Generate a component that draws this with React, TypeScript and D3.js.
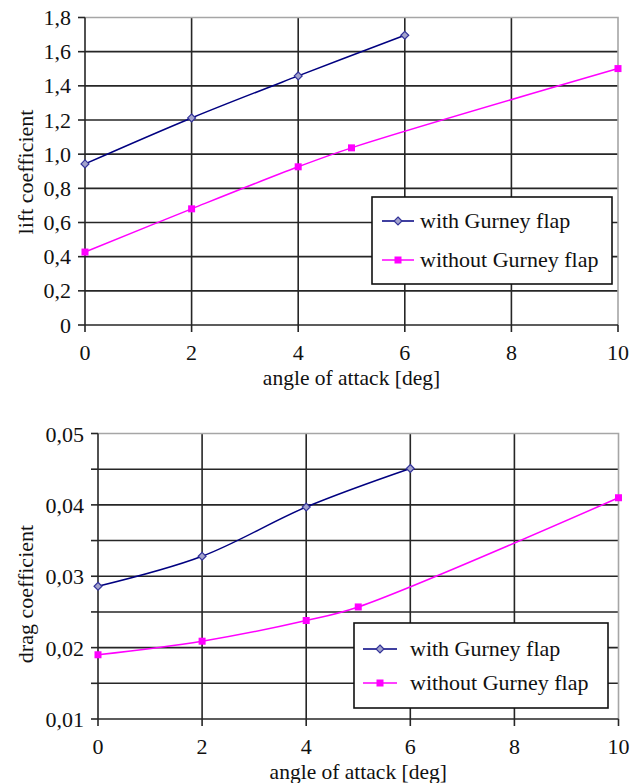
import React, { useRef, useEffect } from 'react';
import * as d3 from 'd3';

// angle of attack [deg]
const anglesWith = [0, 2, 4, 6];
const anglesWithout = [0, 2, 4, 5, 10];

// lift coefficient
const liftWith = [0.943, 1.212, 1.458, 1.696];
const liftWithout = [0.427, 0.68, 0.926, 1.037, 1.501];

// drag coefficient
const dragWith = [0.0286, 0.0328, 0.0397, 0.0451];
const dragWithout = [0.019, 0.0209, 0.0238, 0.0257, 0.041];

const xTicks = [0, 2, 4, 6, 8, 10];
const liftTicks = [0, 0.2, 0.4, 0.6, 0.8, 1.0, 1.2, 1.4, 1.6, 1.8];
const dragTicks = [0.01, 0.015, 0.02, 0.025, 0.03, 0.035, 0.04, 0.045, 0.05];
const dragLabels = [0.01, 0.02, 0.03, 0.04, 0.05];

const seriesNames = ['with Gurney flap', 'without Gurney flap'];

const FONT = '"Liberation Serif", "Times New Roman", serif';
const NAVY = '#000080';
const DIAMOND_FILL = '#a3a3cc';
const MAGENTA = '#ff00ff';

const drawChart = (svg, cfg) => {
  const { x0, x1, y0, y1, yDomain, yTicks, yLabels, fmt, withVals, withoutVals, yTitle, yTitleCenter, legend, labelDy } = cfg;

  const x = d3.scaleLinear().domain([0, 10]).range([x0, x1]);
  const y = d3.scaleLinear().domain(yDomain).range([y1, y0]);
  const g = svg.append('g');

  // grid lines (horizontal)
  g.selectAll('.hgrid')
    .data(yTicks.filter(v => v !== yDomain[0] && v !== yDomain[1]))
    .enter()
    .append('line')
    .attr('x1', x0)
    .attr('x2', x1)
    .attr('y1', d => y(d))
    .attr('y2', d => y(d))
    .attr('stroke', '#262626')
    .attr('stroke-width', 1.6);

  // grid lines (vertical)
  g.selectAll('.vgrid')
    .data(xTicks.filter(v => v !== 0 && v !== 10))
    .enter()
    .append('line')
    .attr('x1', d => x(d))
    .attr('x2', d => x(d))
    .attr('y1', y0)
    .attr('y2', y1)
    .attr('stroke', '#262626')
    .attr('stroke-width', 1.6);

  // plot area border top/right (gray)
  g.append('path')
    .attr('d', `M${x0},${y0}H${x1}V${y1}`)
    .attr('fill', 'none')
    .attr('stroke', '#a6a6a6')
    .attr('stroke-width', 1.6);

  // axes
  g.append('line')
    .attr('x1', x0).attr('x2', x0).attr('y1', y0).attr('y2', y1)
    .attr('stroke', '#262626').attr('stroke-width', 1.6);
  g.append('line')
    .attr('x1', x0).attr('x2', x1).attr('y1', y1).attr('y2', y1)
    .attr('stroke', '#262626').attr('stroke-width', 1.6);

  // tick marks
  g.selectAll('.ytick')
    .data(yTicks)
    .enter()
    .append('line')
    .attr('x1', x0 - 7)
    .attr('x2', x0)
    .attr('y1', d => y(d))
    .attr('y2', d => y(d))
    .attr('stroke', '#262626')
    .attr('stroke-width', 1.6);
  g.selectAll('.xtick')
    .data(xTicks)
    .enter()
    .append('line')
    .attr('x1', d => x(d))
    .attr('x2', d => x(d))
    .attr('y1', y1)
    .attr('y2', y1 + 7)
    .attr('stroke', '#262626')
    .attr('stroke-width', 1.6);

  // tick labels
  g.selectAll('.ylab')
    .data(yLabels)
    .enter()
    .append('text')
    .attr('x', x0 - 14)
    .attr('y', d => y(d) + labelDy)
    .attr('text-anchor', 'end')
    .attr('font-family', FONT)
    .attr('font-size', 22)
    .attr('fill', '#111')
    .text(d => fmt(d));
  g.selectAll('.xlab')
    .data(xTicks)
    .enter()
    .append('text')
    .attr('x', d => x(d))
    .attr('y', y1 + 35)
    .attr('text-anchor', 'middle')
    .attr('font-family', FONT)
    .attr('font-size', 22)
    .attr('fill', '#111')
    .text(d => d);

  // axis titles
  g.append('text')
    .attr('x', (x0 + x1) / 2)
    .attr('y', y1 + 59.5)
    .attr('text-anchor', 'middle')
    .attr('font-family', FONT)
    .attr('font-size', 21.5)
    .attr('fill', '#111')
    .text('angle of attack [deg]');
  g.append('text')
    .attr('transform', `translate(33, ${yTitleCenter}) rotate(-90)`)
    .attr('text-anchor', 'middle')
    .attr('font-family', FONT)
    .attr('font-size', 22)
    .attr('fill', '#111')
    .text(yTitle);

  // series lines
  const line = d3.line().curve(d3.curveCatmullRom.alpha(0.5));
  const ptsWith = anglesWith.map((a, i) => [x(a), y(withVals[i])]);
  const ptsWithout = anglesWithout.map((a, i) => [x(a), y(withoutVals[i])]);

  g.append('path')
    .attr('d', line(ptsWithout))
    .attr('fill', 'none')
    .attr('stroke', MAGENTA)
    .attr('stroke-width', 1.5);
  g.append('path')
    .attr('d', line(ptsWith))
    .attr('fill', 'none')
    .attr('stroke', NAVY)
    .attr('stroke-width', 1.5);

  const diamond = d3.symbol().type(d3.symbolDiamond2).size(40);

  g.selectAll('.sq')
    .data(ptsWithout)
    .enter()
    .append('rect')
    .attr('x', d => d[0] - 3.5)
    .attr('y', d => d[1] - 3.5)
    .attr('width', 7)
    .attr('height', 7)
    .attr('fill', MAGENTA);
  g.selectAll('.dm')
    .data(ptsWith)
    .enter()
    .append('path')
    .attr('d', diamond())
    .attr('transform', d => `translate(${d[0]},${d[1]})`)
    .attr('fill', DIAMOND_FILL)
    .attr('stroke', '#333399')
    .attr('stroke-width', 1.2);

  // legend
  const L = legend;
  g.append('rect')
    .attr('x', L.x)
    .attr('y', L.y)
    .attr('width', L.w)
    .attr('height', L.h)
    .attr('fill', '#fff')
    .attr('stroke', '#111')
    .attr('stroke-width', 1.6);

  seriesNames.forEach((name, i) => {
    const ly = L.rowY[i];
    const color = i === 0 ? NAVY : MAGENTA;
    g.append('line')
      .attr('x1', L.sx0).attr('x2', L.sx1).attr('y1', ly).attr('y2', ly)
      .attr('stroke', color).attr('stroke-width', 1.5);
    const mx = (L.sx0 + L.sx1) / 2;
    if (i === 0) {
      g.append('path')
        .attr('d', diamond())
        .attr('transform', `translate(${mx},${ly})`)
        .attr('fill', DIAMOND_FILL)
        .attr('stroke', '#333399')
        .attr('stroke-width', 1.2);
    } else {
      g.append('rect')
        .attr('x', mx - 3.5).attr('y', ly - 3.5).attr('width', 7).attr('height', 7)
        .attr('fill', MAGENTA);
    }
    g.append('text')
      .attr('x', L.tx)
      .attr('y', ly + 6.5)
      .attr('font-family', FONT)
      .attr('font-size', 22)
      .attr('fill', '#111')
      .text(name);
  });
};

const App = () => {
  const ref = useRef(null);

  useEffect(() => {
    const node = ref.current;
    if (!node) return;
    const svg = d3.select(node);
    svg.selectAll('*').remove();

    const commaFmt = (digits) => (v) => (v === 0 ? '0' : d3.format(`.${digits}f`)(v).replace('.', ','));

    drawChart(svg, {
      x0: 85, x1: 618, y0: 17.5, y1: 325,
      yDomain: [0, 1.8],
      yTicks: liftTicks,
      yLabels: liftTicks,
      fmt: commaFmt(1),
      withVals: liftWith,
      withoutVals: liftWithout,
      yTitle: 'lift coefficient',
      yTitleCenter: 172,
      labelDy: 7.5,
      legend: { x: 372, y: 197, w: 240, h: 87, rowY: [221, 260], sx0: 382, sx1: 414, tx: 420 }
    });

    drawChart(svg, {
      x0: 98, x1: 618.5, y0: 433.5, y1: 719,
      yDomain: [0.01, 0.05],
      yTicks: dragTicks,
      yLabels: dragLabels,
      fmt: commaFmt(2),
      withVals: dragWith,
      withoutVals: dragWithout,
      yTitle: 'drag coefficient',
      yTitleCenter: 594,
      labelDy: 8,
      legend: { x: 354, y: 623, w: 254, h: 85, rowY: [649, 683], sx0: 363, sx1: 397, tx: 410 }
    });
  }, []);

  return (
    <svg
      ref={ref}
      width={643}
      height={783}
      style={{ position: 'absolute', left: 0, top: 0, background: '#fff' }}
    />
  );
};

export default App;
